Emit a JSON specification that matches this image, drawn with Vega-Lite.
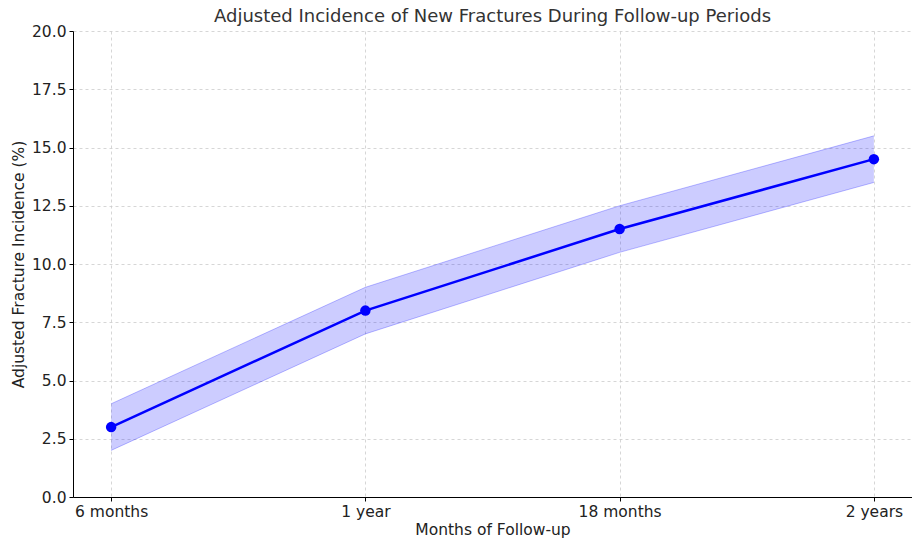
{
  "$schema": "https://vega.github.io/schema/vega-lite/v6.json",
  "width": 839,
  "height": 466,
  "autosize": {"type": "none"},
  "padding": {"left": 73, "top": 31, "right": 0, "bottom": 42},
  "title": {"text": "Adjusted Incidence of New Fractures During Follow-up Periods", "font": "DejaVu Sans", "fontSize": 18, "fontWeight": "normal", "color": "#333333", "offset": 4, "dy": 6, "frame": "group", "anchor": "middle"},
  "config": {
    "view": {"stroke": null},
    "font": "DejaVu Sans",
    "axis": {
      "labelFont": "DejaVu Sans", "labelFontSize": 15.5, "labelColor": "#222222",
      "titleFont": "DejaVu Sans", "titleFontSize": 15.5, "titleFontWeight": "normal", "titleColor": "#222222",
      "domainColor": "#000000", "tickColor": "#000000", "tickSize": 4,
      "gridColor": "#cccccc", "gridDash": [3, 3], "gridWidth": 0.8
    }
  },
  "data": {"values": [
    {"period": "6 months", "value": 3.0, "lo": 2.0, "hi": 4.0},
    {"period": "1 year", "value": 8.0, "lo": 7.0, "hi": 9.0},
    {"period": "18 months", "value": 11.5, "lo": 10.5, "hi": 12.5},
    {"period": "2 years", "value": 14.5, "lo": 13.5, "hi": 15.5}
  ]},
  "encoding": {
    "x": {"field": "period", "type": "ordinal", "sort": null,
      "scale": {"type": "point", "padding": 0.15},
      "axis": {"title": "Months of Follow-up", "labelAngle": 0, "grid": true, "titlePadding": 3, "labelPadding": 3}}
  },
  "layer": [
    {"mark": {"type": "area", "color": "#0000ff", "opacity": 0.2, "line": {"color": "#0000ff", "opacity": 0.25, "strokeWidth": 1}},
     "encoding": {
       "y": {"field": "hi", "type": "quantitative"},
       "y2": {"field": "lo"}
     }},
    {"mark": {"type": "line", "color": "#0000ff", "opacity": 0.25, "strokeWidth": 1},
     "encoding": {
       "y": {"field": "lo", "type": "quantitative"}
     }},
    {"mark": {"type": "line", "color": "#0000ff", "strokeWidth": 2.5, "point": {"filled": true, "size": 110, "color": "#0000ff", "opacity": 1}},
     "encoding": {
       "y": {"field": "value", "type": "quantitative",
         "scale": {"domain": [0, 20], "nice": false, "zero": true},
         "axis": {"title": "Adjusted Fracture Incidence (%)", "values": [0, 2.5, 5, 7.5, 10, 12.5, 15, 17.5, 20], "format": ".1f", "grid": true, "titlePadding": 5, "labelPadding": 3}}
     }}
  ]
}
